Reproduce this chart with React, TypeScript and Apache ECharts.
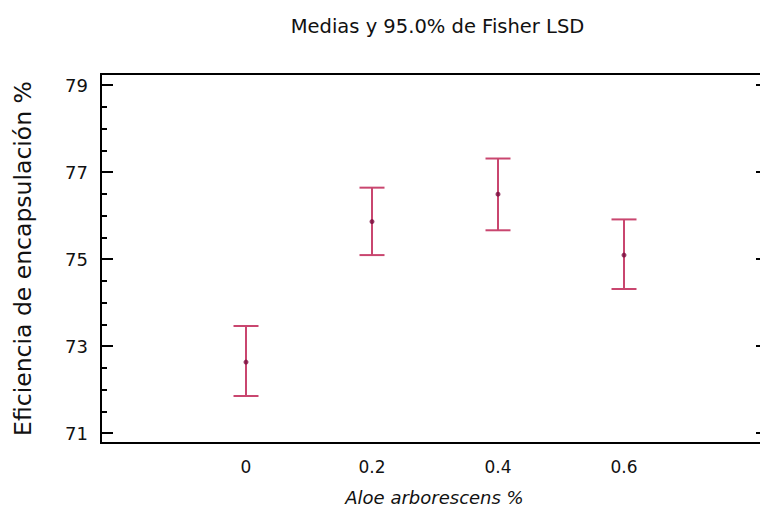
import React, { useEffect, useRef } from "react";
import * as echarts from "echarts";

// Data (Fisher LSD 95% intervals)
const levels = [0, 0.2, 0.4, 0.6];
const means = [72.63, 75.86, 76.49, 75.09];
const lowerLimits = [71.85, 75.09, 75.66, 74.31];
const upperLimits = [73.46, 76.64, 77.31, 75.91];
const xTicks = [0, 0.2, 0.4, 0.6];
const yTicks = [71, 73, 75, 77, 79];

const TITLE = "Medias y 95.0% de Fisher LSD";
const X_NAME = "Aloe arborescens %";
const Y_NAME = "Eficiencia de encapsulación %";

const BAR_COLOR = "#c9466f";
const DOT_COLOR = "#7a0b3d";
const FONT = "DejaVu Sans";

export default function App() {
  const ref = useRef<HTMLDivElement>(null);

  useEffect(() => {
    if (!ref.current) return;
    const chart = echarts.init(ref.current, undefined, { renderer: "svg" });

    // layout
    const frameLeft = 101;
    const frameTop = 74;
    const frameWidth = 667;
    const frameHeight = 369;
    const tickTop = 85; // pixel of top y tick
    const tickBottom = 433; // pixel of bottom y tick
    const yMinTick = yTicks[0];
    const yMaxTick = yTicks[yTicks.length - 1];
    const pxPerUnit = (tickBottom - tickTop) / (yMaxTick - yMinTick);
    const yMax = yMaxTick + (tickTop - frameTop) / pxPerUnit;
    const yMin = yMinTick - (frameTop + frameHeight - tickBottom) / pxPerUnit;

    const xLeftPx = 246;
    const xRightPx = 624;
    const plotCenter = frameLeft + frameWidth / 2 - 2;

    const errData = levels.map((l, i) => [l, lowerLimits[i], upperLimits[i]]);
    const meanData = levels.map((l, i) => [l, means[i]]);

    const option: any = {
      animation: false,
      backgroundColor: "#ffffff",
      title: {
        text: TITLE,
        left: plotCenter,
        textAlign: "center",
        top: 11,
        textStyle: {
          fontFamily: FONT,
          fontSize: 19.5,
          fontWeight: "normal",
          color: "#111",
        },
      },
      grid: [
        { left: frameLeft, top: frameTop, width: frameWidth, height: frameHeight, outerBoundsMode: "none", containLabel: false },
        { left: frameLeft, top: tickTop, width: frameWidth, height: tickBottom - tickTop, outerBoundsMode: "none", containLabel: false },
        { left: xLeftPx, top: frameTop, width: xRightPx - xLeftPx, height: frameHeight, outerBoundsMode: "none", containLabel: false },
      ],
      xAxis: [
        {
          gridIndex: 0,
          type: "value",
          position: "bottom",
          min: 0,
          max: 1,
          axisLine: { show: true, lineStyle: { color: "#000", width: 2 } },
          axisTick: { show: false },
          axisLabel: { show: false },
          splitLine: { show: false },
          name: X_NAME,
          nameLocation: "middle",
          nameGap: 45,
          nameTextStyle: {
            fontFamily: FONT,
            fontSize: 18,
            fontStyle: "italic",
            color: "#111",
          },
        },
        {
          gridIndex: 0,
          type: "value",
          position: "top",
          min: 0,
          max: 1,
          axisLine: { show: true, lineStyle: { color: "#000", width: 2 } },
          axisTick: { show: false },
          axisLabel: { show: false },
          splitLine: { show: false },
        },
        {
          gridIndex: 1,
          type: "value",
          min: 0,
          max: 1,
          show: false,
        },
        {
          gridIndex: 2,
          type: "value",
          min: xTicks[0],
          max: xTicks[xTicks.length - 1],
          interval: 0.2,
          axisLine: { show: false },
          axisTick: { show: false },
          splitLine: { show: false },
          axisLabel: {
            fontFamily: FONT,
            fontSize: 17,
            color: "#111",
            margin: 15,
            formatter: (v: number) => {
              const hit = xTicks.find((t) => Math.abs(t - v) < 1e-6);
              return hit === undefined ? "" : String(hit);
            },
          },
        },
      ],
      yAxis: [
        {
          gridIndex: 0,
          type: "value",
          position: "left",
          min: yMin,
          max: yMax,
          axisLine: { show: true, lineStyle: { color: "#000", width: 2 } },
          axisTick: { show: false },
          axisLabel: { show: false },
          splitLine: { show: false },
          name: Y_NAME,
          nameLocation: "middle",
          nameGap: 66,
          nameTextStyle: {
            fontFamily: FONT,
            fontSize: 23.5,
            color: "#111",
          },
        },
        {
          gridIndex: 0,
          type: "value",
          position: "right",
          min: yMin,
          max: yMax,
          axisLine: { show: true, lineStyle: { color: "#000", width: 2 } },
          axisTick: { show: false },
          axisLabel: { show: false },
          splitLine: { show: false },
        },
        {
          gridIndex: 1,
          type: "value",
          position: "left",
          min: yMinTick,
          max: yMaxTick,
          interval: 2,
          axisLine: { show: false },
          axisTick: {
            show: true,
            inside: true,
            length: 12,
            lineStyle: { color: "#000", width: 2 },
          },
          minorTick: {
            show: true,
            splitNumber: 4,
            length: 6,
            lineStyle: { color: "#000", width: 2 },
          },
          splitLine: { show: false },
          minorSplitLine: { show: false },
          axisLabel: {
            fontFamily: FONT,
            fontSize: 18,
            color: "#111",
            margin: 13,
            formatter: (v: number) => {
              const hit = yTicks.find((t) => Math.abs(t - v) < 1e-6);
              return hit === undefined ? "" : String(hit);
            },
          },
        },
        {
          gridIndex: 1,
          type: "value",
          position: "right",
          min: yMinTick,
          max: yMaxTick,
          interval: 2,
          axisLine: { show: false },
          axisTick: {
            show: true,
            inside: true,
            length: 12,
            lineStyle: { color: "#000", width: 2 },
          },
          minorTick: { show: false },
          splitLine: { show: false },
          axisLabel: { show: false },
        },
        {
          gridIndex: 2,
          type: "value",
          min: yMin,
          max: yMax,
          show: false,
        },
      ],
      series: [
        {
          type: "custom",
          xAxisIndex: 3,
          yAxisIndex: 4,
          clip: false,
          encode: { x: 0, y: [1, 2] },
          data: errData,
          renderItem: (params: any, api: any) => {
            const x = api.value(0);
            const lo = api.coord([x, api.value(1)]);
            const hi = api.coord([x, api.value(2)]);
            const hw = 12.5;
            const style = { stroke: BAR_COLOR, lineWidth: 2, fill: "none" };
            return {
              type: "group",
              children: [
                { type: "line", shape: { x1: lo[0], y1: lo[1], x2: hi[0], y2: hi[1] }, style },
                { type: "line", shape: { x1: hi[0] - hw, y1: hi[1], x2: hi[0] + hw, y2: hi[1] }, style },
                { type: "line", shape: { x1: lo[0] - hw, y1: lo[1], x2: lo[0] + hw, y2: lo[1] }, style },
              ],
            };
          },
          z: 2,
        },
        {
          type: "scatter",
          xAxisIndex: 3,
          yAxisIndex: 4,
          data: meanData,
          symbol: "circle",
          symbolSize: 5,
          itemStyle: { color: DOT_COLOR },
          z: 3,
        },
      ],
    };

    chart.setOption(option);
    return () => chart.dispose();
  }, []);

  return (
    <div
      ref={ref}
      style={{ position: "absolute", left: 0, top: 0, width: 760, height: 508 }}
    />
  );
}
